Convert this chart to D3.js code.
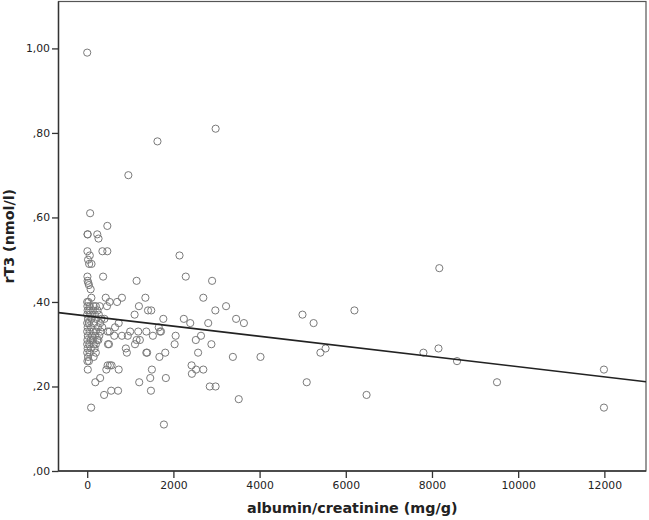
<!DOCTYPE html>
<html>
<head>
<meta charset="utf-8">
<script src="https://cdn.jsdelivr.net/npm/d3@7"></script>
<style>
  html, body { margin: 0; padding: 0; background: #fff; }
  svg { display: block; }
</style>
</head>
<body>
<svg id="chart" width="649" height="520"></svg>
<script>
// albumin/creatinine (mg/g) values
const albumin = [
  0, 2980, 1630, 955, 68, 467, 7, 12, 233, 263, 353, 467, 5, 20, 60, 45, 100, 2142, 369, 5, 10, 25, 40, 80, 2287, 1146, 2898, 8170,
  97, 430, 521, 693, 806, 1350, 2694, 0, 30,
  459, 1200, 3222, 5, 60, 150, 200, 290,
  2973, 1411, 1486, 6200, 10, 50, 130, 240,
  4995, 1100, 0, 70, 180, 270,
  1766, 2242, 3455, 20, 100, 210, 330, 400,
  2391, 3636, 5253, 2808, 731, 0, 40, 160, 300,
  1660, 646, 10, 90, 250, 350,
  996, 1184, 1372, 1712, 1689, 0, 60, 140, 200, 310, 475, 520,
  806, 942, 1524, 2052, 2640, 628, 15, 110, 180, 280,
  1146, 1222, 2520, 5, 80, 130, 230, 260,
  1109, 2029, 2882, 482, 505, 0, 50, 150, 200,
  897, 5531, 8151, 10, 90, 170,
  920, 1372, 1390, 1811, 2573, 5411, 7802, 0, 60, 200,
  1675, 3380, 4021, 20, 150,
  8581, 5, 40,
  475, 527, 566, 2422,
  14, 444, 731, 1501, 2527, 2694, 11990,
  2429,
  301, 1463, 1825,
  188, 1207, 5094, 9509,
  2844, 2979,
  557, 716, 1479,
  392, 6482,
  3516,
  91, 11990,
  1780
];
// rT3 (nmol/l) values
const rT3 = [
  0.99, 0.81, 0.78, 0.70, 0.61, 0.58, 0.56, 0.56, 0.56, 0.55, 0.52, 0.52, 0.52, 0.50, 0.51, 0.49, 0.49, 0.51, 0.46, 0.46, 0.45, 0.445, 0.44, 0.43, 0.46, 0.45, 0.45, 0.48,
  0.41, 0.41, 0.40, 0.40, 0.41, 0.41, 0.41, 0.40, 0.40,
  0.39, 0.39, 0.39, 0.39, 0.39, 0.39, 0.39, 0.39,
  0.38, 0.38, 0.38, 0.38, 0.38, 0.38, 0.38, 0.38,
  0.37, 0.37, 0.37, 0.37, 0.37, 0.37,
  0.36, 0.36, 0.36, 0.36, 0.36, 0.36, 0.36, 0.36,
  0.35, 0.35, 0.35, 0.35, 0.35, 0.35, 0.35, 0.35, 0.35,
  0.34, 0.34, 0.34, 0.34, 0.34, 0.34,
  0.33, 0.33, 0.33, 0.33, 0.33, 0.33, 0.33, 0.33, 0.33, 0.33, 0.33, 0.33,
  0.32, 0.32, 0.32, 0.32, 0.32, 0.32, 0.32, 0.32, 0.32, 0.32,
  0.31, 0.31, 0.31, 0.31, 0.31, 0.31, 0.31, 0.31,
  0.30, 0.30, 0.30, 0.30, 0.30, 0.30, 0.30, 0.30, 0.30,
  0.29, 0.29, 0.29, 0.29, 0.29, 0.29,
  0.28, 0.28, 0.28, 0.28, 0.28, 0.28, 0.28, 0.28, 0.28, 0.28,
  0.27, 0.27, 0.27, 0.27, 0.27,
  0.26, 0.26, 0.26,
  0.25, 0.25, 0.25, 0.25,
  0.24, 0.24, 0.24, 0.24, 0.24, 0.24, 0.24,
  0.23,
  0.22, 0.22, 0.22,
  0.21, 0.21, 0.21, 0.21,
  0.20, 0.20,
  0.19, 0.19, 0.19,
  0.18, 0.18,
  0.17,
  0.15, 0.15,
  0.11
];
// fit line
const fitIntercept = 0.3667;
const fitSlope = -0.00001198;

const xTicks = [0, 2000, 4000, 6000, 8000, 10000, 12000];
const yTicks = [0, 0.2, 0.4, 0.6, 0.8, 1.0];
const xDomain = [-666, 12966];
const yDomain = [0, 1.111];
const xTitle = "albumin/creatinine (mg/g)";
const yTitle = "rT3 (nmol/l)";

const svg = d3.select("#chart");
const L = 58.5, R = 646, T = 1.5, B = 471;

const x = d3.scaleLinear().domain(xDomain).range([L, R]);
const y = d3.scaleLinear().domain(yDomain).range([B, T]);

// frame
svg.append("rect")
  .attr("x", L).attr("y", T).attr("width", R - L).attr("height", B - T)
  .attr("fill", "none").attr("stroke", "#555").attr("stroke-width", 1.2);

// points
const pts = albumin.map((v, i) => ({ a: v, r: rT3[i] }));
svg.append("g").selectAll("circle").data(pts).enter().append("circle")
  .attr("cx", d => x(d.a)).attr("cy", d => y(d.r)).attr("r", 3.6)
  .attr("fill", "none").attr("stroke", "#7a7a7a").attr("stroke-width", 1);

// regression line
svg.append("line")
  .attr("x1", x(xDomain[0])).attr("y1", y(fitIntercept + fitSlope * xDomain[0]))
  .attr("x2", x(xDomain[1])).attr("y2", y(fitIntercept + fitSlope * xDomain[1]))
  .attr("stroke", "#222").attr("stroke-width", 1.6);

const fmtY = d => d3.format(".2f")(d).replace(/^0\./, ",").replace(".", ",");

const xAxis = svg.append("g").attr("transform", `translate(0,${B})`)
  .call(d3.axisBottom(x).tickValues(xTicks).tickSize(7).tickPadding(3).tickFormat(d3.format("d")));
const yAxis = svg.append("g").attr("transform", `translate(${L},0)`)
  .call(d3.axisLeft(y).tickValues(yTicks).tickSize(6.5).tickPadding(2).tickFormat(fmtY));

[xAxis, yAxis].forEach(g => {
  g.select(".domain").remove();
  g.selectAll(".tick line").attr("stroke", "#333").attr("stroke-width", 1.3);
  g.selectAll(".tick text").attr("fill", "#222")
    .style("font-family", "'DejaVu Sans', sans-serif").style("font-size", "10.8px");
});

// axis lines
svg.append("line").attr("x1", L).attr("x2", L).attr("y1", T).attr("y2", B)
  .attr("stroke", "#333").attr("stroke-width", 1.4);
svg.append("line").attr("x1", L).attr("x2", R).attr("y1", B).attr("y2", B)
  .attr("stroke", "#333").attr("stroke-width", 1.4);

// titles
svg.append("text").text(xTitle)
  .attr("x", (L + R) / 2).attr("y", 508).attr("text-anchor", "middle")
  .attr("dominant-baseline", "central")
  .style("font-family", "'DejaVu Sans', sans-serif").style("font-weight", "bold")
  .style("font-size", "14.3px").attr("fill", "#222");
svg.append("text").text(yTitle)
  .attr("transform", `translate(9,${(T + B) / 2}) rotate(-90)`)
  .attr("text-anchor", "middle").attr("dominant-baseline", "central")
  .style("font-family", "'DejaVu Sans', sans-serif").style("font-weight", "bold")
  .style("font-size", "14.3px").attr("fill", "#222");
</script>
</body>
</html>
